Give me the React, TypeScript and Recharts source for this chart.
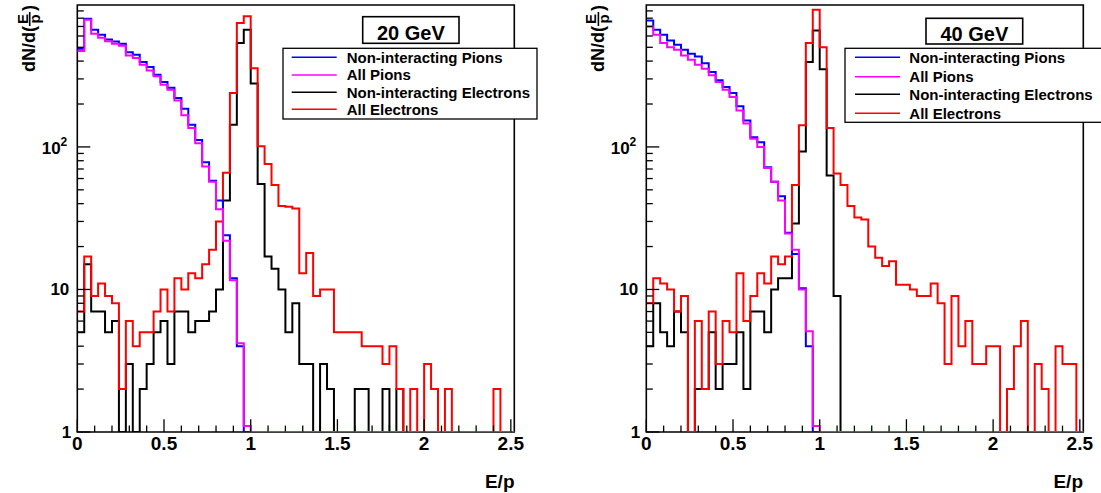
import React from 'react';
import { LineChart, Line, XAxis, YAxis, ReferenceArea } from 'recharts';

const FONT = '"Liberation Sans", Arial, Helvetica, sans-serif';

// histogram binning: 63 bins of 0.04 in E/p
const BIN_WIDTH = 0.04;
const N_BINS = 63;
const X_MAX = 2.52;
const Y_MIN = 1;
const Y_MAX = 990;

const X_TICKS = [0, 0.1, 0.2, 0.3, 0.4, 0.5, 0.6, 0.7, 0.8, 0.9, 1, 1.1, 1.2, 1.3, 1.4, 1.5, 1.6, 1.7, 1.8, 1.9, 2, 2.1, 2.2, 2.3, 2.4, 2.5];
const X_LABELS = [0, 0.5, 1, 1.5, 2, 2.5];
const Y_TICKS = [1, 2, 3, 4, 5, 6, 7, 8, 9, 10, 20, 30, 40, 50, 60, 70, 80, 90, 100, 200, 300, 400, 500, 600, 700, 800, 900];

// 20 GeV panel
const nonIntPions20 = [489, 793, 664, 612, 568, 550, 530, 462, 444, 394, 363, 321, 285, 260, 220, 185, 143, 112, 78, 58, 42, 24, 12, 4, 0,
  0, 0, 0, 0, 0, 0, 0, 0, 0, 0, 0, 0, 0, 0, 0, 0, 0, 0, 0, 0, 0, 0, 0, 0, 0, 0, 0, 0, 0, 0, 0, 0, 0, 0, 0, 0, 0, 0];
const allPions20 = [470, 780, 622, 583, 552, 530, 513, 438, 420, 377, 344, 313, 273, 252, 212, 167, 136, 106, 73, 57, 36.5, 22, 11.6, 4.2, 1.1,
  0, 0, 0, 0, 0, 0, 0, 0, 0, 0, 0, 0, 0, 0, 0, 0, 0, 0, 0, 0, 0, 0, 0, 0, 0, 0, 0, 0, 0, 0, 0, 0, 0, 0, 0, 0, 0, 0];
const nonIntElec20 = [5, 15, 7, 7, 5, 6, 0, 3, 0, 2, 3, 5, 6, 3, 7, 7, 5, 6, 6, 7, 10, 42, 143, 535, 664, 278, 55, 17, 14, 10,
  5, 8, 3, 3, 0, 3, 2, 0, 0, 0, 2, 2, 0, 0, 2, 0, 2, 0, 0, 0, 0, 0, 0, 0, 0, 0, 0, 0, 0, 0, 0, 0, 0];
const allElec20 = [7, 17, 9, 11, 9, 8, 2, 6, 4, 5, 5, 7, 10, 7, 12, 10, 13, 12, 15, 19, 30, 66, 239, 739, 827, 357, 101, 76, 54, 38.5,
  38, 37, 13, 18, 9, 10, 10, 5, 5, 5, 5, 4, 4, 4, 3, 4, 2, 0, 2, 0, 3, 2, 0, 2, 0, 0, 0, 0, 0, 0, 2, 0, 0];

// 40 GeV panel
const nonIntPions40 = [771, 664, 612, 558, 521, 481, 451, 431, 387, 335, 293, 263, 239, 193, 153, 117, 108, 72, 57, 45, 25, 17.7, 10.2, 4, 0,
  0, 0, 0, 0, 0, 0, 0, 0, 0, 0, 0, 0, 0, 0, 0, 0, 0, 0, 0, 0, 0, 0, 0, 0, 0, 0, 0, 0, 0, 0, 0, 0, 0, 0, 0, 0, 0, 0];
const allPions40 = [700, 612, 535, 501, 481, 438, 409, 377, 354, 318, 285, 252, 224, 180, 146, 114, 100, 71, 57, 42, 24.7, 19, 10, 5.1, 1.1,
  0, 0, 0, 0, 0, 0, 0, 0, 0, 0, 0, 0, 0, 0, 0, 0, 0, 0, 0, 0, 0, 0, 0, 0, 0, 0, 0, 0, 0, 0, 0, 0, 0, 0, 0, 0, 0, 0];
const nonIntElec40 = [4, 8, 5, 4, 7, 5, 0, 2, 2, 5, 2, 3, 3, 5, 2, 7, 7, 5, 10, 12, 12, 29, 93, 394, 656, 350, 63, 9, 0, 0,
  0, 0, 0, 0, 0, 0, 0, 0, 0, 0, 0, 0, 0, 0, 0, 0, 0, 0, 0, 0, 0, 0, 0, 0, 0, 0, 0, 0, 0, 0, 0, 0, 0];
const allElec40 = [8, 12, 11, 10, 7, 9, 0, 6, 2, 7, 3, 6, 5, 13, 6, 9, 13, 11, 17, 15, 17, 54, 142, 535, 916, 501, 136, 65, 54, 38.5,
  32, 31, 20, 16.7, 14.6, 15.8, 10.8, 10.8, 10, 9, 9, 11, 8, 3, 9, 4, 6, 3, 3, 4, 4, 0, 2, 4, 6, 0, 3, 2, 0, 4, 3, 3, 0];

// draw order: electrons first, pions on top
const SERIES = [
  { key: 'nie', name: 'Non-interacting Electrons', color: '#000000' },
  { key: 'ae', name: 'All Electrons', color: '#ff0000' },
  { key: 'nip', name: 'Non-interacting Pions', color: '#0000ff' },
  { key: 'ap', name: 'All Pions', color: '#ff00ff' },
];
const LEGEND_ORDER = ['nip', 'ap', 'nie', 'ae'];

// chart geometry
const CHART_W = 560;
const CHART_H = 493;
const MARGIN = { top: 5, right: 45.7, bottom: 21, left: 17.3 };
const Y_AXIS_W = 60;
const X_AXIS_H = 40;

function buildRows(nip: number[], ap: number[], nie: number[], ae: number[]) {
  const rows = [];
  const clamp = (v: number) => Math.max(v, Y_MIN);
  for (let i = 0; i <= N_BINS; i++) {
    const b = Math.min(i, N_BINS - 1);
    rows.push({
      x: +(i * BIN_WIDTH).toFixed(2),
      nip: clamp(nip[b]),
      ap: clamp(ap[b]),
      nie: clamp(nie[b]),
      ae: clamp(ae[b]),
    });
  }
  return rows;
}

const rows20 = buildRows(nonIntPions20, allPions20, nonIntElec20, allElec20);
const rows40 = buildRows(nonIntPions40, allPions40, nonIntElec40, allElec40);

const XTick = (props: any) => {
  const { x, y, payload } = props;
  const v = payload.value;
  const major = X_LABELS.some((l) => Math.abs(l - v) < 1e-6);
  return (
    <g>
      <line x1={x} x2={x} y1={y} y2={y - (major ? 12.8 : 6.4)} stroke="#000" strokeWidth={1.3} />
      {major && (
        <text x={x} y={y + 18} textAnchor="middle" fontSize={19} fontWeight="bold" fontFamily={FONT} fill="#000">
          {String(v)}
        </text>
      )}
    </g>
  );
};

const YTick = (props: any) => {
  const { x, y, payload } = props;
  const v = payload.value;
  const lg = Math.log10(v);
  const major = Math.abs(lg - Math.round(lg)) < 1e-9;
  let label = null;
  if (v === 1) {
    label = <text x={x - 6} y={y + 6} textAnchor="end" fontSize={17} fontWeight="bold" fontFamily={FONT}>1</text>;
  } else if (v === 10) {
    label = <text x={x - 8} y={y + 6} textAnchor="end" fontSize={17} fontWeight="bold" fontFamily={FONT}>10</text>;
  } else if (v === 100) {
    label = (
      <text x={x - 10} y={y + 7} textAnchor="end" fontSize={17} fontWeight="bold" fontFamily={FONT}>
        10<tspan fontSize={12} dy={-8}>2</tspan>
      </text>
    );
  }
  return (
    <g>
      <line x1={x} x2={x + (major ? 13 : 6.5)} y1={y} y2={y} stroke="#000" strokeWidth={1.3} />
      {label}
    </g>
  );
};

function Panel({ rows, left }: { rows: any[]; left: number }) {
  return (
    <div style={{ position: 'absolute', left, top: 0 }}>
      <LineChart width={CHART_W} height={CHART_H} data={rows} margin={MARGIN}>
        <XAxis
          dataKey="x"
          type="number"
          domain={[0, X_MAX]}
          ticks={X_TICKS}
          interval={0}
          tick={(p: any) => <XTick {...p} />}
          tickLine={false}
          axisLine={false}
          tickSize={0}
          tickMargin={0}
          height={X_AXIS_H}
          allowDataOverflow
        />
        <YAxis
          type="number"
          scale="log"
          domain={[Y_MIN, Y_MAX]}
          ticks={Y_TICKS}
          interval={0}
          tick={(p: any) => <YTick {...p} />}
          tickLine={false}
          axisLine={false}
          tickSize={0}
          tickMargin={0}
          width={Y_AXIS_W}
          allowDataOverflow
        />
        <ReferenceArea x1={0} x2={X_MAX} y1={Y_MIN} y2={Y_MAX} fill="none" stroke="#000" strokeWidth={1.6} fillOpacity={0} ifOverflow="visible" />
        {SERIES.map((s) => (
          <Line
            key={s.key}
            type="stepAfter"
            dataKey={s.key}
            stroke={s.color}
            strokeWidth={2}
            dot={false}
            activeDot={false}
            isAnimationActive={false}
          />
        ))}
      </LineChart>
    </div>
  );
}

function YTitle({ x }: { x: number }) {
  return (
    <g transform={`translate(${x}, 72) rotate(-90)`} fontFamily={FONT} fontWeight="bold" fill="#000">
      <text x={0} y={0} fontSize={18}>dN/d(</text>
      <text x={53} y={-7.5} fontSize={15} textAnchor="middle">E</text>
      <line x1={46} x2={60} y1={-5.3} y2={-5.3} stroke="#000" strokeWidth={1.6} />
      <text x={53} y={5} fontSize={15} textAnchor="middle">p</text>
      <text x={61} y={0} fontSize={18}>)</text>
    </g>
  );
}

function LegendBox({ x, y, w, h, rowY, lineX, textX }: { x: number; y: number; w: number; h: number; rowY: number[]; lineX: number; textX: number }) {
  return (
    <g>
      <rect x={x} y={y} width={w} height={h} fill="#fff" stroke="#000" strokeWidth={1.3} />
      {LEGEND_ORDER.map((k, i) => {
        const s = SERIES.find((d) => d.key === k)!;
        return (
          <g key={k}>
            <line x1={lineX} x2={lineX + 45} y1={rowY[i]} y2={rowY[i]} stroke={s.color} strokeWidth={1.5} />
            <text x={textX} y={rowY[i] + 5.3} fontSize={15} fontWeight="bold" fontFamily={FONT} fill="#000">
              {s.name}
            </text>
          </g>
        );
      })}
    </g>
  );
}

function TitleBox({ x, y, w, h, label }: { x: number; y: number; w: number; h: number; label: string }) {
  return (
    <g>
      <rect x={x} y={y} width={w} height={h} fill="#fff" stroke="#000" strokeWidth={1.6} />
      <text x={x + w / 2} y={y + h - 3.5} textAnchor="middle" fontSize={20} fontWeight="bold" fontFamily={FONT} fill="#000">
        {label}
      </text>
    </g>
  );
}

export default function App() {
  const rightLeft = 568.7;
  return (
    <div
      style={{
        position: 'absolute',
        left: 0,
        top: 0,
        width: 1101,
        height: 493,
        background: '#fff',
        overflow: 'hidden',
        fontFamily: FONT,
      }}
    >
      <Panel rows={rows20} left={0} />
      <Panel rows={rows40} left={rightLeft} />
      <svg width={1101} height={493} style={{ position: 'absolute', left: 0, top: 0, pointerEvents: 'none' }}>
        <YTitle x={35} />
        <YTitle x={35 + rightLeft} />
        <text x={514.5} y={488} textAnchor="end" fontSize={19} fontWeight="bold" fontFamily={FONT}>E/p</text>
        <text x={1083} y={488} textAnchor="end" fontSize={19} fontWeight="bold" fontFamily={FONT}>E/p</text>
        <TitleBox x={362.7} y={16.7} w={96.3} h={26.6} label="20 GeV" />
        <TitleBox x={926} y={18.3} w={96.7} h={25.7} label="40 GeV" />
        <LegendBox x={283} y={48.3} w={254} h={70.7} rowY={[57.3, 75, 92.3, 109.3]} lineX={291.7} textX={346.7} />
        <LegendBox x={845} y={48.3} w={262} h={74} rowY={[57.3, 76.7, 94.3, 113.3]} lineX={855} textX={909.3} />
      </svg>
    </div>
  );
}
